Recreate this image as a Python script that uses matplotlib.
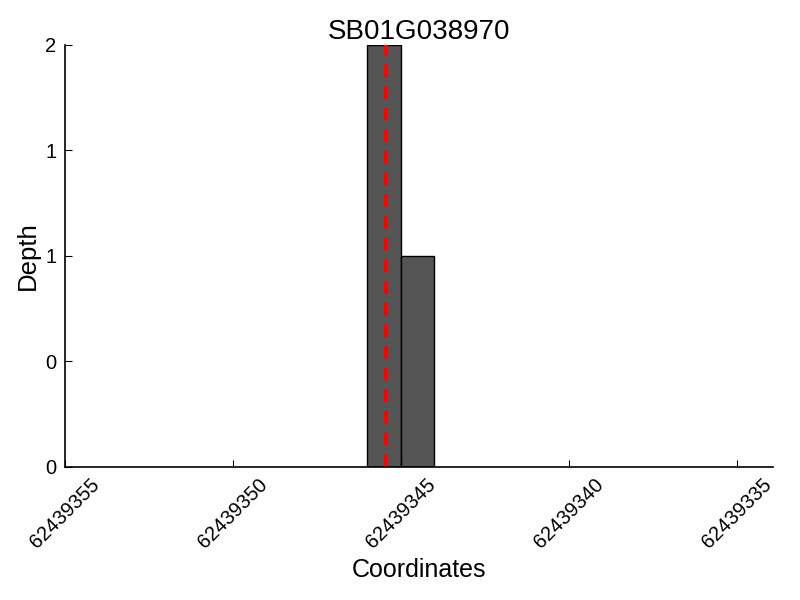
import matplotlib
matplotlib.use("Agg")
import matplotlib.pyplot as plt
from matplotlib.ticker import FormatStrFormatter

plt.rcParams['font.family'] = ['Liberation Sans', 'DejaVu Sans']

# data
gene = "SB01G038970"
coords = [62439345, 62439344]
depth = [2, 1]
marker_pos = 62439345.45
x_ticks = [62439355, 62439350, 62439345, 62439340, 62439335]
y_ticks = [0, 0.5, 1, 1.5, 2]

fig = plt.figure(figsize=(8, 6), dpi=100)
ax = fig.add_axes([0.081, 0.222, 0.885, 0.703])

ax.bar(coords, depth, width=1, align='edge', color='#555555',
       edgecolor='black', linewidth=1)
ax.axvline(marker_pos, color='red', linestyle='--', linewidth=3,
           dashes=(3, 2.2))

ax.set_xlim(62439355, 62439333.93)
ax.set_ylim(0, 2)
ax.set_xticks(x_ticks)
ax.set_xticklabels([str(t) for t in x_ticks], rotation=45, ha='center')
ax.set_yticks(y_ticks)
ax.yaxis.set_major_formatter(FormatStrFormatter('%d'))

ax.spines['top'].set_visible(False)
ax.spines['right'].set_visible(False)
ax.spines['left'].set_linewidth(1.2)
ax.spines['bottom'].set_linewidth(1.2)
ax.tick_params(direction='in', length=5, width=0.8, labelsize=14.5, pad=6)

ax.set_xlabel('Coordinates', fontsize=18, labelpad=4)
ax.set_ylabel('Depth', fontsize=18.5)
ax.set_title(gene, fontsize=20, pad=4)

fig.savefig('out.png', dpi=100)
